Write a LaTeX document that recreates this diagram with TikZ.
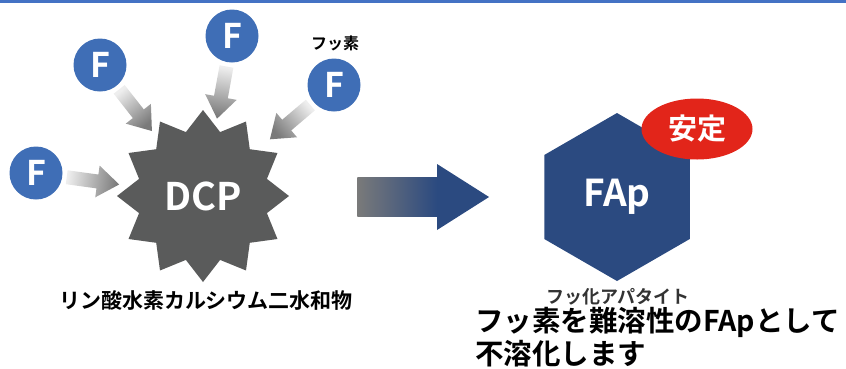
\documentclass[tikz,border=0pt]{standalone}
\usepackage{fontspec}
\setmainfont{Noto Sans CJK JP}[BoldFont={* Bold}]
\usetikzlibrary{calc,shapes.geometric}
\definecolor{topblue}{HTML}{4472C4}
\definecolor{fblue}{HTML}{3F6EB6}
\definecolor{dcpgray}{HTML}{5A5B5B}
\definecolor{hexblue}{HTML}{2B4A80}
\definecolor{stablered}{HTML}{E2251A}
\definecolor{arrowgray}{HTML}{7A7A7A}
\definecolor{lightgray}{HTML}{EEEEEE}
\tikzset{
	fatom/.style={circle,fill=fblue,minimum size=53pt,inner sep=0pt,text=white,font=\bfseries\fontsize{34}{34}\selectfont},
	dcpstar/.style={star,star points=12,star point ratio=1.3,minimum size=172pt,inner sep=0pt,fill=dcpgray,text=white,font=\bfseries\fontsize{38}{38}\selectfont},
	faphex/.style={regular polygon,regular polygon sides=6,shape border rotate=30,minimum size=168pt,inner sep=0pt,fill=hexblue,text=white,font=\bfseries\fontsize{37}{37}\selectfont},
	stablebadge/.style={ellipse,minimum width=111pt,minimum height=61pt,inner sep=0pt,fill=stablered,text=white,font=\bfseries\fontsize{29}{29}\selectfont},
}
\newcommand\fluorarrow[2]{
\path ($(#1)!31pt!(dcp)$) coordinate (s) ($(#1)!62pt!(dcp)$) coordinate (h) ($(#1)!84pt!(dcp)$) coordinate (t);
\shade[top color=arrowgray,bottom color=lightgray,shading angle=#2]
	($(s)!7pt!90:(t)$) -- ($(h)!7pt!90:(t)$) -- ($(h)!16pt!90:(t)$) -- (t)
	-- ($(h)!16pt!-90:(t)$) -- ($(h)!7pt!-90:(t)$) -- ($(s)!7pt!-90:(t)$) -- cycle;
}

\begin{document}
\begin{tikzpicture}[x=1pt,y=-1pt]
\useasboundingbox (0,0) rectangle (846,368);
\fill[topblue] (0,0) rectangle (846,3);
\node[dcpstar] (dcp) at (203,196) {DCP};
\node[fatom] (fa) at (100,65) {F};
\node[fatom] (fb) at (232,36) {F};
\node[fatom] (fc) at (334,85) {F};
\node[fatom] (fd) at (36,173) {F};
\node[font=\bfseries\fontsize{16}{16}\selectfont] (flabel) at (335,43) {フッ素};
\fluorarrow{fa}{-140}
\fluorarrow{fb}{170}
\fluorarrow{fc}{130}
\fluorarrow{fd}{-98}
\node[font=\bfseries\fontsize{21}{21}\selectfont] (dcpname) at (206,300) {リン酸水素カルシウム二水和物};
\node[faphex] (fap) at (617,197) {FAp};
\node[stablebadge] (stable) at (697,129) {安定};
\node[font=\bfseries\fontsize{18}{18}\selectfont,text=black!80] (fapname) at (618,297) {フッ化アパタイト};
\shade[left color=arrowgray,right color=hexblue] ($(dcp.east)+(68,-19)$) rectangle ($(fap.west)+(-107,19)$);
\fill[hexblue] ($(fap.west)+(-107,-33)$) -- ($(fap.west)+(-55,0)$) -- ($(fap.west)+(-107,33)$) -- cycle;
\node[anchor=north west,align=left,inner sep=0pt,font=\bfseries\fontsize{28.5}{33}\selectfont] (result) at (475,307) {フッ素を難溶性のFApとして\\不溶化します};
\end{tikzpicture}
\end{document}
